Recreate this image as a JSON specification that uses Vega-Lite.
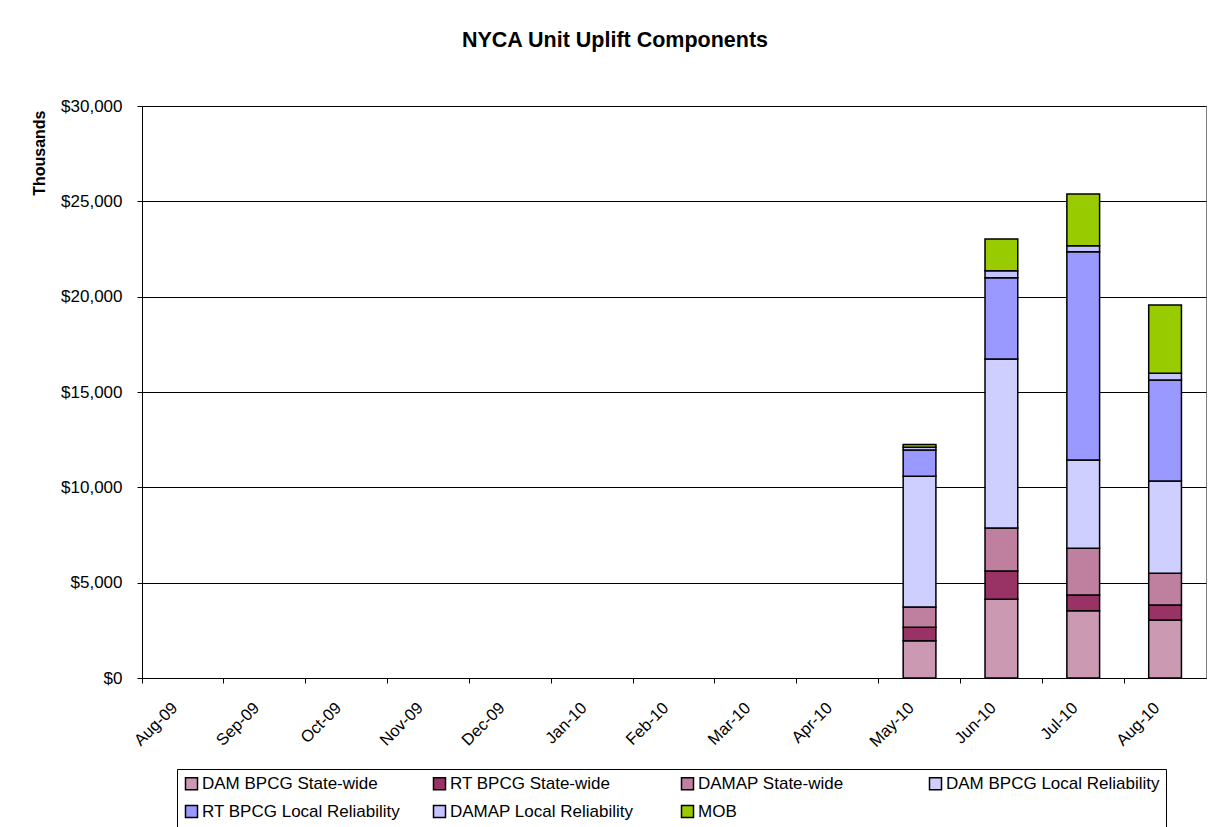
{
  "$schema": "https://vega.github.io/schema/vega-lite/v6.json",
  "width": 1064,
  "height": 572,
  "autosize": {"type": "none"},
  "padding": {"left": 142, "top": 106, "right": 11, "bottom": 149},
  "background": "white",
  "title": {
    "text": "NYCA Unit Uplift Components",
    "font": "Liberation Sans",
    "fontSize": 21.5,
    "fontWeight": "bold",
    "color": "#000",
    "anchor": "middle",
    "frame": "group",
    "dx": -59,
    "baseline": "alphabetic",
    "offset": 29
  },
  "data": {
    "values": [
      {"month": "May-10", "series": "DAM BPCG State-wide", "k": 1, "value": 1960},
      {"month": "May-10", "series": "RT BPCG State-wide", "k": 2, "value": 700},
      {"month": "May-10", "series": "DAMAP State-wide", "k": 3, "value": 1060},
      {"month": "May-10", "series": "DAM BPCG Local Reliability", "k": 4, "value": 6860},
      {"month": "May-10", "series": "RT BPCG Local Reliability", "k": 5, "value": 1380},
      {"month": "May-10", "series": "DAMAP Local Reliability", "k": 6, "value": 140},
      {"month": "May-10", "series": "MOB", "k": 7, "value": 150},
      {"month": "Jun-10", "series": "DAM BPCG State-wide", "k": 1, "value": 4130},
      {"month": "Jun-10", "series": "RT BPCG State-wide", "k": 2, "value": 1480},
      {"month": "Jun-10", "series": "DAMAP State-wide", "k": 3, "value": 2260},
      {"month": "Jun-10", "series": "DAM BPCG Local Reliability", "k": 4, "value": 8860},
      {"month": "Jun-10", "series": "RT BPCG Local Reliability", "k": 5, "value": 4260},
      {"month": "Jun-10", "series": "DAMAP Local Reliability", "k": 6, "value": 370},
      {"month": "Jun-10", "series": "MOB", "k": 7, "value": 1660},
      {"month": "Jul-10", "series": "DAM BPCG State-wide", "k": 1, "value": 3530},
      {"month": "Jul-10", "series": "RT BPCG State-wide", "k": 2, "value": 820},
      {"month": "Jul-10", "series": "DAMAP State-wide", "k": 3, "value": 2450},
      {"month": "Jul-10", "series": "DAM BPCG Local Reliability", "k": 4, "value": 4630},
      {"month": "Jul-10", "series": "RT BPCG Local Reliability", "k": 5, "value": 10930},
      {"month": "Jul-10", "series": "DAMAP Local Reliability", "k": 6, "value": 310},
      {"month": "Jul-10", "series": "MOB", "k": 7, "value": 2710},
      {"month": "Aug-10", "series": "DAM BPCG State-wide", "k": 1, "value": 3040},
      {"month": "Aug-10", "series": "RT BPCG State-wide", "k": 2, "value": 790},
      {"month": "Aug-10", "series": "DAMAP State-wide", "k": 3, "value": 1660},
      {"month": "Aug-10", "series": "DAM BPCG Local Reliability", "k": 4, "value": 4840},
      {"month": "Aug-10", "series": "RT BPCG Local Reliability", "k": 5, "value": 5300},
      {"month": "Aug-10", "series": "DAMAP Local Reliability", "k": 6, "value": 350},
      {"month": "Aug-10", "series": "MOB", "k": 7, "value": 3580}
    ]
  },
  "mark": {"type": "bar", "stroke": "#000", "strokeWidth": 1.5},
  "encoding": {
    "x": {
      "field": "month",
      "type": "ordinal",
      "scale": {
        "domain": ["Aug-09", "Sep-09", "Oct-09", "Nov-09", "Dec-09", "Jan-10", "Feb-10", "Mar-10", "Apr-10", "May-10", "Jun-10", "Jul-10", "Aug-10"],
        "paddingInner": 0.6,
        "paddingOuter": 0.3
      },
      "axis": {
        "title": null,
        "bandPosition": -0.75,
        "labelOffset": -8,
        "labelAngle": -45,
        "labelAlign": "right",
        "labelBaseline": "middle",
        "labelPadding": 22,
        "labelFont": "Liberation Sans",
        "labelFontSize": 16.5,
        "labelColor": "#000",
        "tickSize": 5,
        "tickColor": "#000",
        "domainColor": "#000",
        "grid": false
      }
    },
    "y": {
      "field": "value",
      "type": "quantitative",
      "stack": "zero",
      "scale": {"domain": [0, 30000], "nice": false},
      "axis": {
        "title": "Thousands",
        "titleFont": "Liberation Sans",
        "titleFontSize": 16,
        "titleFontWeight": "bold",
        "titleColor": "#000",
        "titleAnchor": "end",
        "titleX": -103,
        "titleY": 4,
        "titleAlign": "right",
        "titleBaseline": "middle",
        "titleAngle": -90,
        "values": [0, 5000, 10000, 15000, 20000, 25000, 30000],
        "format": "$,.0f",
        "labelFont": "Liberation Sans",
        "labelFontSize": 17,
        "labelColor": "#000",
        "labelPadding": 15,
        "tickSize": 5,
        "tickColor": "#000",
        "domainColor": "#000",
        "grid": true,
        "gridColor": "#000",
        "gridWidth": 1
      }
    },
    "color": {
      "field": "series",
      "type": "nominal",
      "scale": {
        "domain": ["DAM BPCG State-wide", "RT BPCG State-wide", "DAMAP State-wide", "DAM BPCG Local Reliability", "RT BPCG Local Reliability", "DAMAP Local Reliability", "MOB"],
        "range": ["#CC99B3", "#993366", "#BF809F", "#CFCFFF", "#9999FF", "#C4C4FF", "#99CC00"]
      },
      "legend": {
        "title": null,
        "orient": "none",
        "legendX": 35,
        "legendY": 663,
        "direction": "horizontal",
        "columns": 4,
        "gridAlign": "all",
        "columnPadding": 14,
        "rowPadding": 9,
        "padding": 6,
        "strokeColor": "#000",
        "fillColor": "white",
        "symbolType": "square",
        "symbolSize": 144,
        "symbolStrokeColor": "#000",
        "symbolStrokeWidth": 1.5,
        "symbolOpacity": 1,
        "labelFont": "Liberation Sans",
        "labelFontSize": 17,
        "labelColor": "#000",
        "labelOffset": 2,
        "labelLimit": 400
      }
    },
    "order": {"field": "k", "type": "quantitative", "sort": "ascending"}
  },
  "config": {
    "view": {"stroke": "#808080", "strokeWidth": 1},
    "axis": {"domainWidth": 1, "tickWidth": 1}
  }
}
